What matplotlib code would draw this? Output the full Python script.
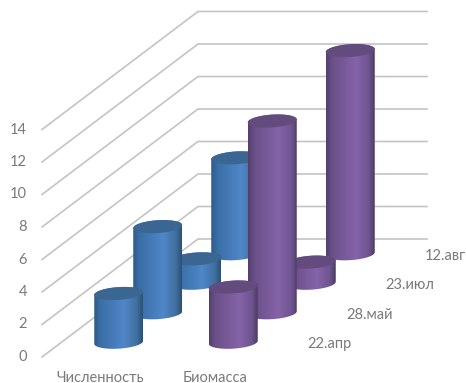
import numpy as np
from matplotlib import pyplot as plt
from matplotlib.colors import LinearSegmentedColormap
from matplotlib.patches import Polygon

categories = ['Численность', 'Биомасса']
dates = ['22.апр', '28.май', '23.июл', '12.авг']
chislennost = [3.0, 5.3, 1.5, 5.9]
biomassa = [3.4, 11.8, 1.3, 12.5]
y_ticks = [0, 2, 4, 6, 8, 10, 12, 14]

# pixels per data unit
PX_X = 114.5
PX_Y = 16.25
LEFT = 42
BOTTOM = 357

# oblique shift for one step of depth, in data units
DEPTH_X = 39 / PX_X
DEPTH_Y = 29.5 / PX_Y

BAR_RX = 24.5 / PX_X
BAR_RY = 6.4 / PX_Y
BAR_TILT = 1.5 / PX_Y

TEXT = '#7a7a7a'
GRID = '#c4c4c4'

blue_map = LinearSegmentedColormap.from_list('blue', [(0, '#2f5b88'), (0.12, '#3a6ea6'), (0.62, '#4f87c8'),
                                                      (0.88, '#41709f'), (1, '#2b5178')])
purple_map = LinearSegmentedColormap.from_list('purple', [(0, '#553f6e'), (0.12, '#6a5088'), (0.62, '#8563a9'),
                                                          (0.88, '#6e5590'), (1, '#4f3b66')])
BLUE_TOP = '#3b6692'
PURPLE_TOP = '#634b7e'


def project(x, value, depth):
    return x + depth * DEPTH_X, value + depth * DEPTH_Y


def draw_cylinder(ax, cat, depth, value, cmap, top_color, z):
    cx, base = project(cat + 0.5, 0, depth + 0.5)
    top = base + value

    t = np.linspace(0, 2 * np.pi, 121)
    ex = cx + BAR_RX * np.cos(t)
    ey = BAR_RY * np.sin(t) + BAR_TILT * np.cos(t)

    # body outline: lower half of the base ellipse, upper half of the top one
    lower = t >= np.pi
    upper = t <= np.pi
    body_x = np.concatenate([ex[lower], ex[upper]])
    body_y = np.concatenate([base + ey[lower], top + ey[upper]])
    body = Polygon(np.column_stack([body_x, body_y]), closed=True, facecolor='none', edgecolor='none', zorder=z)
    ax.add_patch(body)

    shade = np.linspace(0, 1, 64).reshape(1, -1)
    im = ax.imshow(shade, cmap=cmap, vmin=0, vmax=1, aspect='auto', interpolation='bilinear',
                   extent=[cx - BAR_RX, cx + BAR_RX, base - 1, top + 1], zorder=z)
    im.set_clip_path(body)

    ax.add_patch(Polygon(np.column_stack([ex, top + ey]), closed=True, facecolor=top_color,
                         edgecolor='none', zorder=z + 0.5))


fig = plt.figure(figsize=(4.66, 3.83), dpi=100)
plt.rcParams['font.family'] = ['Lato', 'Open Sans', 'DejaVu Sans']
ax = fig.add_axes([0, 0, 1, 1])
xlim = (-LEFT / PX_X, (466 - LEFT) / PX_X)
ylim = ((BOTTOM - 383) / PX_Y, BOTTOM / PX_Y)

# floor-to-back grid lines
for v in y_ticks:
    bx, by = project(0, v, len(dates))
    rx, ry = project(len(categories), v, len(dates))
    ax.plot([0, bx, rx], [v, by, ry], color=GRID, lw=1.2, solid_joinstyle='miter', zorder=1)
    ax.text(-15 / PX_X, v, str(v), ha='right', va='center', fontsize=10.5, color=TEXT)

# back row is drawn first so the nearer cylinders overlap it
z = 2
for d in range(len(dates) - 1, -1, -1):
    draw_cylinder(ax, 0, d, chislennost[d], blue_map, BLUE_TOP, z)
    draw_cylinder(ax, 1, d, biomassa[d], purple_map, PURPLE_TOP, z + 1)
    z += 2

for i, c in enumerate(categories):
    ax.text(i + 0.5 + 1 / PX_X, -20.5 / PX_Y, c, ha='center', va='center', fontsize=10.5, color=TEXT)

for d, label in enumerate(dates):
    x, y = project(len(categories), 0, d + 0.5)
    ax.text(x + 17 / PX_X, y - 2 / PX_Y, label, ha='left', va='center', fontsize=10.5, color=TEXT)

ax.set_xlim(xlim)
ax.set_ylim(ylim)
ax.axis('off')

fig.savefig('out.png', dpi=100)
